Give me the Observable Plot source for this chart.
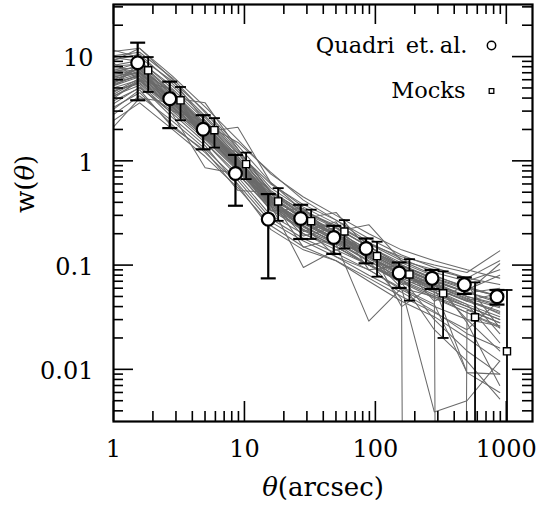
<!DOCTYPE html>
<html><head><meta charset="utf-8">
<script src="https://cdn.jsdelivr.net/npm/d3@7"></script>
<script src="https://cdn.jsdelivr.net/npm/@observablehq/plot@0.6"></script>
<style>body{margin:0;background:#fff}</style>
</head><body><div id="chart"></div>
<script>
// Quadri et al. measurements
const quadriTheta = [1.53, 2.69, 4.84, 8.54, 15.2, 26.9, 48.1, 84.9, 152, 271, 478, 849];
const quadriW     = [8.74, 3.95, 2.01, 0.756, 0.276, 0.280, 0.184, 0.1445, 0.084, 0.0746, 0.0649, 0.0498];
const quadriHi    = [13.6, 5.75, 2.74, 1.14, 0.48, 0.379, 0.238, 0.180, 0.106, 0.0898, 0.0762, 0.0577];
const quadriLo    = [3.81, 2.06, 1.29, 0.371, 0.0746, 0.178, 0.128, 0.104, 0.0604, 0.059, 0.0529, 0.0418];

// Mock mean and scatter
const mockTheta = [1.84, 3.25, 5.9, 10.3, 18.1, 32.3, 58, 103, 182, 329, 577, 1012];
const mockW     = [7.39, 3.81, 1.97, 0.93, 0.408, 0.264, 0.210, 0.122, 0.0814, 0.0536, 0.0316, 0.0149];
const mockHi    = [9.9, 5.11, 2.57, 1.20, 0.547, 0.34, 0.270, 0.1675, 0.114, 0.0871, 0.0683, 0.0577];
const mockLo    = [4.58, 2.45, 1.34, 0.668, 0.266, 0.178, 0.1445, 0.0774, 0.0456, 0.020, 1e-4, 1e-4];

// Individual mock catalogues (1e-60 marks a non-positive estimate)
const lineTheta = [0.89, 1.585, 2.82, 5.01, 8.91, 15.85, 28.2, 50.1, 89.1, 158.5, 282, 501, 891];
const mockLines = [
  [5.0, 8.0, 4.3, 2.1, 1.0, 0.45, 0.28, 0.20, 0.13, 0.090, 0.065, 0.050, 0.040],
  [4.0, 6.0, 3.3, 1.8, 0.85, 0.40, 0.25, 0.17, 0.11, 0.075, 0.055, 0.040, 0.030],
  [9.0, 10.5, 5.5, 2.7, 1.25, 0.55, 0.34, 0.23, 0.15, 0.10, 0.075, 0.060, 0.050],
  [3.5, 5.0, 3.0, 1.6, 0.80, 0.36, 0.22, 0.16, 0.10, 0.068, 0.048, 0.035, 0.025],
  [11, 12, 6.0, 2.4, 1.1, 0.48, 0.30, 0.21, 0.14, 0.095, 0.07, 0.055, 0.045],
  [1.8, 4.0, 3.6, 2.0, 0.95, 0.42, 0.26, 0.18, 0.12, 0.080, 0.058, 0.042, 0.032],
  [6.0, 7.0, 4.0, 3.6, 1.3, 0.50, 0.30, 0.19, 0.12, 0.085, 0.06, 0.045, 0.035],
  [5.5, 6.5, 3.5, 1.9, 2.1, 0.62, 0.33, 0.23, 0.15, 0.10, 0.072, 0.055, 0.043],
  [4.5, 5.5, 2.8, 0.86, 0.75, 0.35, 0.22, 0.15, 0.10, 0.070, 0.050, 0.038, 0.028],
  [7.0, 7.5, 3.8, 1.7, 0.90, 0.38, 0.095, 0.14, 0.10, 0.072, 0.052, 0.04, 0.03],
  [8.0, 8.5, 4.5, 2.2, 1.05, 0.44, 0.148, 0.18, 0.12, 0.08, 0.06, 0.046, 0.036],
  [5.0, 6.8, 3.7, 1.95, 0.98, 0.43, 0.29, 0.21, 0.244, 0.11, 0.08, 0.06, 0.05],
  [4.2, 6.2, 3.4, 1.75, 0.88, 0.39, 0.24, 0.16, 0.029, 0.06, 0.05, 0.035, 0.026],
  [10, 9.0, 5.2, 2.6, 1.2, 0.6, 0.38, 0.27, 0.18, 0.125, 0.095, 0.075, 0.065],
  [3.8, 5.8, 3.2, 1.65, 0.82, 0.37, 0.23, 0.165, 0.11, 0.047, 1e-60, 0.037, 0.028],
  [6.2, 7.2, 3.9, 2.05, 1.0, 0.41, 0.26, 0.18, 0.115, 0.078, 0.057, 1e-60, 1e-60],
  [7.5, 7.8, 4.1, 2.15, 1.02, 0.46, 0.27, 0.19, 0.125, 0.06, 0.0039, 0.005, 0.012],
  [2.5, 4.2, 2.4, 1.3, 0.65, 0.28, 0.18, 0.13, 0.09, 0.060, 0.042, 0.0093, 0.006],
  [10, 11, 6.2, 2.9, 1.3, 0.5, 0.33, 0.24, 0.16, 0.12, 0.10, 0.085, 0.137],
  [5.2, 6.6, 3.6, 1.85, 0.92, 0.40, 0.27, 0.19, 0.13, 0.09, 0.07, 0.055, 0.103],
  [6.5, 7.0, 3.7, 1.9, 0.93, 0.42, 0.26, 0.2, 0.135, 0.092, 0.068, 0.05, 0.022],
  [3.0, 4.5, 2.2, 1.2, 0.6, 0.26, 0.17, 0.12, 0.08, 0.055, 0.036, 0.022, 0.016],
  [8.5, 12, 6.5, 3.3, 1.6, 0.75, 0.45, 0.3, 0.2, 0.14, 0.11, 0.09, 0.075],
  [4.8, 6.0, 3.3, 1.8, 0.87, 0.39, 0.25, 0.17, 0.12, 0.083, 0.062, 0.0093, 0.009],
  [7.0, 8.8, 4.6, 2.3, 1.1, 0.5, 0.31, 0.21, 0.14, 0.098, 0.074, 0.058, 0.08],
  [4.5, 5.6, 3.1, 1.7, 0.84, 0.37, 0.235, 0.165, 0.108, 0.076, 0.03, 0.015, 0.009],
  [5.8, 7.1, 3.85, 2.0, 0.96, 0.44, 0.28, 0.195, 0.13, 0.088, 0.064, 0.048, 0.039],
  [2.2, 3.6, 2.0, 1.1, 0.55, 0.24, 0.15, 0.11, 0.075, 0.05, 0.035, 0.024, 0.046],
  [6.8, 8.2, 4.3, 2.2, 1.05, 0.46, 0.29, 0.2, 0.135, 0.094, 0.07, 0.054, 0.06],
  [5.0, 6.4, 3.5, 1.85, 0.9, 0.41, 0.255, 0.175, 0.118, 0.082, 0.06, 0.045, 0.054],
  [6.0, 7.6, 4.0, 2.1, 1.0, 0.45, 0.28, 0.32, 0.14, 0.1, 0.066, 0.05, 0.042],
  [3.6, 5.9, 3.25, 1.75, 0.86, 0.38, 0.24, 0.12, 0.09, 0.058, 0.04, 0.03, 0.026],
  [8.0, 9.2, 4.9, 2.45, 1.17, 0.52, 0.32, 0.225, 0.15, 0.105, 0.078, 0.062, 0.05],
  [3.2, 5.1, 2.85, 1.5, 0.75, 0.34, 0.215, 0.15, 0.1, 0.068, 0.024, 0.012, 0.0052],
  [5.5, 6.9, 3.75, 1.95, 0.94, 0.415, 0.19, 0.23, 0.125, 0.087, 0.063, 0.047, 0.034],
  [7.0, 8.0, 4.3, 2.25, 1.5, 0.78, 0.42, 0.27, 0.165, 0.115, 0.085, 0.07, 0.09],
  [12, 9.8, 5.8, 3.0, 1.4, 0.62, 0.36, 0.25, 0.16, 0.11, 0.09, 0.075, 0.11],
  [4.0, 5.3, 2.6, 1.4, 0.58, 0.22, 0.14, 0.11, 0.07, 0.045, 0.032, 0.02, 0.012],
  [6.6, 7.4, 4.6, 1.5, 0.7, 0.3, 0.2, 0.15, 0.1, 0.075, 0.055, 0.042, 0.018],
  [5.0, 8.5, 3.0, 2.4, 0.9, 0.33, 0.35, 0.18, 0.13, 0.065, 0.075, 0.028, 0.007],
  [9.5, 6.0, 4.8, 1.6, 1.2, 0.45, 0.21, 0.26, 0.09, 0.1, 0.045, 0.065, 0.025],
  [2.8, 4.8, 2.1, 1.25, 0.52, 0.5, 0.2, 0.14, 0.15, 0.04, 0.065, 0.03, 0.015]
];

// Axis ticks and labels
const xMajor = [1, 10, 100, 1000];
const xMinor = [2,3,4,5,6,7,8,9, 20,30,40,50,60,70,80,90, 200,300,400,500,600,700,800,900];
const yMajor = [0.01, 0.1, 1, 10];
const yMinor = [0.004,0.005,0.006,0.007,0.008,0.009, 0.02,0.03,0.04,0.05,0.06,0.07,0.08,0.09,
                0.2,0.3,0.4,0.5,0.6,0.7,0.8,0.9, 2,3,4,5,6,7,8,9, 20,30];
const xTickLabels = ["1", "10", "100", "1000"];
const yTickLabels = ["0.01", "0.1", "1", "10"];
const legendLabels = ["Quadri\u2002et.\u2009al.", "Mocks"];
const xLabel = "θ(arcsec)";
const yLabel = "w(θ)";

const quadri = quadriTheta.map((t, i) => ({t, w: quadriW[i], hi: quadriHi[i], lo: quadriLo[i]}));
const mocks = mockTheta.map((t, i) => ({t, w: mockW[i], hi: mockHi[i], lo: mockLo[i]}));
const lineRows = mockLines.flatMap((vals, id) => vals.map((v, k) => ({id, t: lineTheta[k], w: v})));

const W = 543, H = 505, mL = 113, mR = 11, mT = 4, mB = 84;
const innerH = H - mT - mB, innerW = W - mL - mR;
const majorLen = 20, minorLen = 10;

const cap = {draw(ctx, size) { const r = Math.sqrt(size / Math.PI); ctx.moveTo(-r, 0); ctx.lineTo(r, 0); }};
const ink = "black";
const font = "DejaVu Serif";

const plot = Plot.plot({
  width: W, height: H,
  marginLeft: mL, marginRight: mR, marginTop: mT, marginBottom: mB,
  style: {fontFamily: font, background: "white"},
  x: {type: "log", domain: [1, 1585], axis: null},
  y: {type: "log", domain: [0.00316, 31.6], axis: null},
  marks: [
    Plot.line(lineRows, {x: "t", y: "w", z: "id", stroke: "#6a6a6a", strokeWidth: 1.05, clip: true}),
    // error bars
    Plot.ruleX(quadri, {x: "t", y1: "lo", y2: "hi", stroke: ink, strokeWidth: 2.2, clip: true}),
    Plot.dot(quadri, {x: "t", y: "hi", symbol: cap, r: 7.5, stroke: ink, strokeWidth: 2.2, clip: true}),
    Plot.dot(quadri, {x: "t", y: "lo", symbol: cap, r: 7.5, stroke: ink, strokeWidth: 2.2, clip: true}),
    Plot.ruleX(mocks, {x: "t", y1: "lo", y2: "hi", stroke: ink, strokeWidth: 1.8, clip: true}),
    Plot.dot(mocks, {x: "t", y: "hi", symbol: cap, r: 5.5, stroke: ink, strokeWidth: 1.8, clip: true}),
    Plot.dot(mocks, {x: "t", y: "lo", symbol: cap, r: 5.5, stroke: ink, strokeWidth: 1.8, clip: true}),
    // points
    Plot.dot(quadri, {x: "t", y: "w", r: 6.4, fill: "white", stroke: ink, strokeWidth: 2.2}),
    Plot.dot(mocks, {x: "t", y: "w", symbol: "square", r: 4, fill: "white", stroke: ink, strokeWidth: 1.4}),
    // inward ticks on all four sides
    Plot.tickX(xMajor, {x: d => d, insetTop: innerH - majorLen, stroke: ink, strokeWidth: 1.6}),
    Plot.tickX(xMinor, {x: d => d, insetTop: innerH - minorLen, stroke: ink, strokeWidth: 1.6}),
    Plot.tickX(xMajor, {x: d => d, insetBottom: innerH - majorLen, stroke: ink, strokeWidth: 1.6}),
    Plot.tickX(xMinor, {x: d => d, insetBottom: innerH - minorLen, stroke: ink, strokeWidth: 1.6}),
    Plot.tickY(yMajor, {y: d => d, insetRight: innerW - majorLen, stroke: ink, strokeWidth: 1.6}),
    Plot.tickY(yMinor, {y: d => d, insetRight: innerW - minorLen, stroke: ink, strokeWidth: 1.6}),
    Plot.tickY(yMajor, {y: d => d, insetLeft: innerW - majorLen, stroke: ink, strokeWidth: 1.6}),
    Plot.tickY(yMinor, {y: d => d, insetLeft: innerW - minorLen, stroke: ink, strokeWidth: 1.6}),
    Plot.frame({stroke: ink, strokeWidth: 2.2}),
    // tick labels
    Plot.text(xMajor, {x: d => d, text: (d, i) => xTickLabels[i], frameAnchor: "bottom", lineAnchor: "middle", dy: 28, fontSize: 24, fill: ink}),
    Plot.text(yMajor, {y: d => d, text: (d, i) => yTickLabels[i], frameAnchor: "left", lineAnchor: "middle", dx: -20, dy: 2, textAnchor: "end", fontSize: 24, fill: ink}),
    // axis titles
    Plot.text([xLabel], {frameAnchor: "bottom", lineAnchor: "middle", dy: 66, fontSize: 26, fill: ink}),
    Plot.text([yLabel], {frameAnchor: "left", lineAnchor: "middle", dx: -88, rotate: -90, fontSize: 26, fill: ink}),
    // legend
    Plot.text([legendLabels[0]], {frameAnchor: "top-right", lineAnchor: "middle", dx: -65, dy: 41, textAnchor: "end", fontSize: 22.5, fill: ink}),
    Plot.text([legendLabels[1]], {frameAnchor: "top-right", lineAnchor: "middle", dx: -67, dy: 86.5, textAnchor: "end", fontSize: 22.5, fill: ink}),
    Plot.dot([0], {frameAnchor: "top-right", dx: -41, dy: 41, r: 4.2, fill: "white", stroke: ink, strokeWidth: 1.5}),
    Plot.dot([0], {frameAnchor: "top-right", dx: -41, dy: 86.5, symbol: "square", r: 2.6, fill: "white", stroke: ink, strokeWidth: 1.3})
  ]
});

// italic theta in axis titles
d3.select(plot).selectAll("text").each(function() {
  const s = this.textContent;
  if (s === xLabel || s === yLabel) {
    const el = d3.select(this);
    el.text(null);
    for (const part of s.split(/(θ)/).filter(p => p)) {
      el.append("tspan").attr("font-style", part === "θ" ? "italic" : null).text(part);
    }
  }
});

document.getElementById("chart").appendChild(plot);
</script>
</body></html>
